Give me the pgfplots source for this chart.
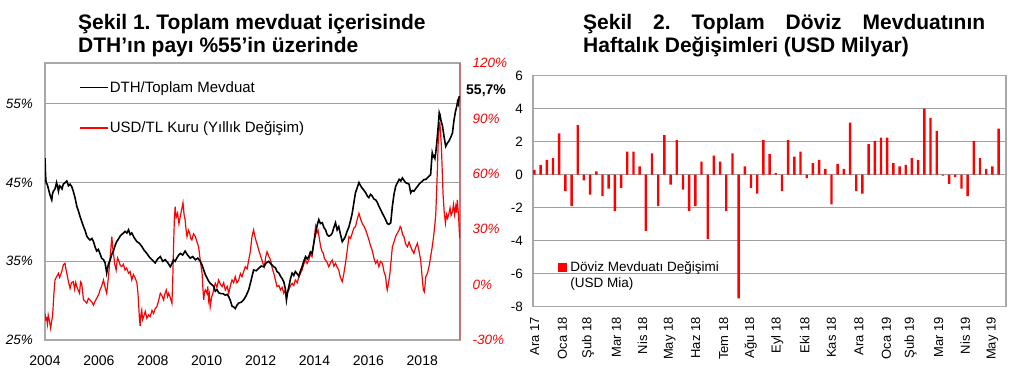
\documentclass[border=0pt]{standalone}
\usepackage{fontspec}
\setmainfont{Liberation Sans}
\usepackage{pgfplots}
\pgfplotsset{compat=1.18}
\definecolor{gridgray}{RGB}{160,160,160}
\definecolor{framegray}{RGB}{168,168,168}
\definecolor{axred}{RGB}{212,110,110}
\newcommand{\fs}[1]{\fontsize{#1}{#1}\selectfont}
\frenchspacing
\begin{document}
\begin{tikzpicture}[x=1pt,y=1pt]
\path[use as bounding box] (0,0) rectangle (1027,375);
% titles
\node[anchor=base west, inner sep=0pt, font=\fs{21}\bfseries] at (78,345) {Şekil 1. Toplam mevduat içerisinde};
\node[anchor=base west, inner sep=0pt, font=\fs{21}\bfseries] at (78,322) {DTH’ın payı \%55’in üzerinde};
\node[anchor=base west, inner sep=0pt, font=\fs{21}\bfseries] at (583,345) {\makebox[402pt][s]{Şekil 2. Toplam Döviz Mevduatının}};
\node[anchor=base west, inner sep=0pt, font=\fs{21}\bfseries] at (583,322) {Haftalık Değişimleri (USD Milyar)};

% ---------- left chart: frame, grid, left ticks, legend
\begin{axis}[
  at={(45pt,35pt)}, anchor=south west, scale only axis,
  width=415pt, height=277pt,
  xmin=2004, xmax=2019.4, ymin=25, ymax=60.2,
  xtick={2004,2006,2008,2010,2012,2014,2016,2018},
  xticklabels={2004,2006,2008,2010,2012,2014,2016,2018},
  ytick={25,35,45,55}, yticklabels={25\%,35\%,45\%,55\%},
  major tick length=0pt,
  ymajorgrids, grid style={gridgray, line width=0.9pt},
  axis line style={framegray, line width=1.3pt},
  xticklabel style={font=\fs{14}},
  xticklabel shift=12pt,
  yticklabel style={font=\fs{13.5}\itshape},
  yticklabel shift=8.5pt,
  legend style={at={(0.082,0.938)}, anchor=north west, draw=none, fill=none,
    font=\fs{15}, inner sep=0pt, row sep=26pt, nodes={inner sep=1pt}},
  legend cell align=left,
  legend image code/.code={\draw[#1] (0pt,0pt) -- (28pt,0pt);},
]
\addlegendimage{black, line width=1.6pt}
\addlegendentry{DTH/Toplam Mevduat}
\addlegendimage{red, line width=1.6pt}
\addlegendentry{USD/TL Kuru (Yıllık Değişim)}
\end{axis}

% ---------- left chart: right axis, red series
\begin{axis}[
  at={(45pt,35pt)}, anchor=south west, scale only axis,
  width=415pt, height=277pt,
  xmin=2004, xmax=2019.4, ymin=-30, ymax=120,
  axis y line*=right, axis x line=none,
  y axis line style={axred, line width=1.3pt, -},
  ytick={-30,0,30,60,90,120}, yticklabels={-30\%,0\%,30\%,60\%,90\%,120\%},
  major tick length=0pt,
  yticklabel style={font=\fs{13.5}\itshape, red},
  yticklabel shift=9pt,
]
\addplot[red, line width=1.2pt] coordinates {
(2004.00,-15.6)(2004.03,-19.0)(2004.06,-18.3)(2004.09,-21.5)(2004.12,-16.5)(2004.17,-20.0)(2004.21,-23.7)(2004.25,-19.5)(2004.28,-17.4)(2004.33,-5.0)(2004.37,2.5)(2004.43,4.3)(2004.50,6.1)(2004.54,3.9)(2004.58,5.2)(2004.63,7.5)(2004.68,10.6)(2004.74,11.5)(2004.78,8.2)(2004.81,6.1)(2004.87,1.6)(2004.93,-2.0)(2004.98,1.0)(2005.05,1.6)(2005.10,-2.5)(2005.14,1.2)(2005.18,-1.1)(2005.23,-3.0)(2005.28,-4.7)(2005.32,1.5)(2005.36,0.7)(2005.43,-8.3)(2005.49,-9.0)(2005.55,-10.1)(2005.61,-7.5)(2005.67,-8.3)(2005.74,-9.5)(2005.80,-11.1)(2005.86,-9.0)(2005.92,-7.4)(2006.00,-5.0)(2006.04,-2.9)(2006.10,-1.0)(2006.17,2.5)(2006.23,-1.5)(2006.29,-4.7)(2006.36,5.0)(2006.42,15.1)(2006.48,26.0)(2006.51,20.5)(2006.54,16.9)(2006.59,11.0)(2006.64,7.9)(2006.69,14.5)(2006.73,13.3)(2006.79,10.5)(2006.85,9.7)(2006.91,11.0)(2006.97,7.9)(2007.03,9.0)(2007.10,6.1)(2007.16,7.0)(2007.22,2.5)(2007.28,5.5)(2007.35,3.4)(2007.41,1.0)(2007.45,-4.7)(2007.48,-12.0)(2007.50,-17.4)(2007.53,-22.5)(2007.56,-16.0)(2007.59,-13.8)(2007.62,-19.0)(2007.66,-17.4)(2007.72,-14.5)(2007.78,-18.3)(2007.84,-16.5)(2007.90,-17.4)(2007.97,-14.0)(2008.03,-15.6)(2008.09,-13.0)(2008.15,-12.0)(2008.21,-9.0)(2008.28,-4.7)(2008.34,-6.0)(2008.40,-8.3)(2008.45,-5.0)(2008.50,-2.9)(2008.55,-6.5)(2008.59,-4.7)(2008.65,-7.0)(2008.71,-10.1)(2008.74,2.0)(2008.77,20.5)(2008.80,35.0)(2008.83,42.2)(2008.87,36.5)(2008.92,38.6)(2008.97,33.0)(2009.02,36.8)(2009.07,40.5)(2009.12,44.3)(2009.16,38.0)(2009.20,35.0)(2009.24,29.0)(2009.27,26.0)(2009.32,29.5)(2009.37,27.8)(2009.41,25.0)(2009.45,24.2)(2009.51,27.5)(2009.58,26.0)(2009.64,23.0)(2009.70,20.5)(2009.76,13.3)(2009.80,9.0)(2009.83,6.1)(2009.86,-2.0)(2009.89,-8.3)(2009.92,-4.0)(2009.95,-2.9)(2010.01,-4.7)(2010.04,-1.0)(2010.07,-8.3)(2010.10,-5.5)(2010.13,-12.0)(2010.18,-7.0)(2010.23,-4.7)(2010.27,-1.5)(2010.32,0.7)(2010.38,-1.5)(2010.44,2.5)(2010.50,0.5)(2010.57,-1.1)(2010.63,1.0)(2010.69,-2.9)(2010.76,-1.0)(2010.82,-4.7)(2010.88,-0.5)(2010.94,2.5)(2011.00,1.0)(2011.06,4.3)(2011.12,1.0)(2011.19,2.5)(2011.25,6.0)(2011.31,4.3)(2011.37,7.0)(2011.43,9.7)(2011.50,8.5)(2011.56,13.3)(2011.62,18.0)(2011.68,26.0)(2011.74,29.6)(2011.79,26.0)(2011.84,23.3)(2011.89,21.0)(2011.93,18.7)(2011.99,16.0)(2012.05,13.3)(2012.10,11.0)(2012.14,9.7)(2012.19,15.0)(2012.24,17.8)(2012.30,15.5)(2012.37,13.3)(2012.43,9.0)(2012.49,6.1)(2012.55,2.5)(2012.61,-1.1)(2012.68,-0.5)(2012.74,-2.9)(2012.80,-1.5)(2012.86,-4.7)(2012.91,-3.0)(2012.95,-6.5)(2013.00,-4.0)(2013.05,-2.9)(2013.11,-0.5)(2013.17,0.7)(2013.23,-0.5)(2013.29,2.5)(2013.36,1.0)(2013.42,4.3)(2013.48,6.0)(2013.54,7.9)(2013.60,11.0)(2013.67,13.3)(2013.73,11.5)(2013.79,13.3)(2013.85,16.5)(2013.91,15.1)(2013.97,22.0)(2014.04,31.4)(2014.09,28.0)(2014.13,29.6)(2014.18,25.0)(2014.23,20.5)(2014.28,18.0)(2014.33,16.9)(2014.37,14.0)(2014.41,13.3)(2014.47,12.0)(2014.53,9.7)(2014.60,12.0)(2014.66,13.3)(2014.72,10.0)(2014.78,11.5)(2014.84,9.5)(2014.90,7.9)(2014.96,4.0)(2015.03,1.6)(2015.09,6.0)(2015.15,11.5)(2015.21,18.0)(2015.28,26.0)(2015.34,25.0)(2015.40,27.8)(2015.46,30.5)(2015.52,31.4)(2015.58,35.0)(2015.65,38.6)(2015.71,35.5)(2015.77,33.2)(2015.84,31.5)(2015.90,29.6)(2015.96,27.0)(2016.02,24.2)(2016.08,21.0)(2016.14,18.7)(2016.21,14.0)(2016.27,11.5)(2016.33,13.0)(2016.39,9.7)(2016.45,12.5)(2016.52,11.5)(2016.58,7.0)(2016.64,4.3)(2016.67,0.0)(2016.70,-2.9)(2016.75,1.0)(2016.80,6.1)(2016.85,14.0)(2016.89,20.5)(2016.95,23.0)(2017.01,26.0)(2017.08,28.0)(2017.14,29.6)(2017.18,31.4)(2017.22,30.5)(2017.27,27.0)(2017.32,26.0)(2017.38,22.0)(2017.45,20.5)(2017.51,23.0)(2017.57,20.5)(2017.63,18.5)(2017.69,16.9)(2017.75,20.0)(2017.82,22.4)(2017.88,18.0)(2017.94,13.3)(2017.99,5.0)(2018.04,-2.9)(2018.08,-4.0)(2018.13,4.3)(2018.19,6.0)(2018.25,9.7)(2018.31,15.0)(2018.37,20.5)(2018.42,26.0)(2018.46,31.4)(2018.50,38.0)(2018.53,49.4)(2018.56,62.0)(2018.59,76.5)(2018.62,84.0)(2018.65,88.0)(2018.68,82.0)(2018.71,74.7)(2018.74,62.0)(2018.77,49.4)(2018.81,40.0)(2018.86,33.2)(2018.90,38.0)(2018.94,36.0)(2018.99,38.6)(2019.03,41.5)(2019.07,37.5)(2019.12,39.5)(2019.16,43.5)(2019.20,38.0)(2019.24,42.2)(2019.27,39.0)(2019.30,45.8)(2019.33,40.0)(2019.35,36.8)(2019.37,30.0)(2019.39,25.0)
};
\end{axis}

% ---------- left chart: black series on top
\begin{axis}[
  at={(45pt,35pt)}, anchor=south west, scale only axis,
  width=415pt, height=277pt,
  xmin=2004, xmax=2019.4, ymin=25, ymax=60.2,
  hide axis,
]
\addplot[black, line width=1.6pt] coordinates {
(2004.00,48.1)(2004.02,46.0)(2004.04,45.0)(2004.08,44.8)(2004.12,44.3)(2004.18,43.5)(2004.25,42.8)(2004.28,43.6)(2004.31,43.9)(2004.37,44.2)(2004.43,45.0)(2004.47,44.4)(2004.50,43.9)(2004.54,44.6)(2004.58,44.5)(2004.63,44.2)(2004.68,44.8)(2004.75,45.0)(2004.81,45.2)(2004.87,44.6)(2004.93,44.8)(2004.99,44.5)(2005.05,43.9)(2005.12,43.0)(2005.18,42.0)(2005.24,41.4)(2005.30,40.7)(2005.36,40.1)(2005.43,39.4)(2005.49,38.9)(2005.55,38.2)(2005.61,37.9)(2005.67,37.7)(2005.74,37.9)(2005.80,37.5)(2005.86,36.8)(2005.92,36.3)(2005.98,36.5)(2006.04,36.0)(2006.10,35.4)(2006.17,35.2)(2006.23,34.8)(2006.29,33.5)(2006.35,34.6)(2006.42,35.2)(2006.48,35.9)(2006.54,36.3)(2006.60,37.0)(2006.66,37.5)(2006.72,37.8)(2006.79,38.2)(2006.88,38.5)(2006.97,38.8)(2007.04,38.6)(2007.10,39.0)(2007.16,38.4)(2007.22,38.6)(2007.31,38.0)(2007.41,37.5)(2007.50,37.3)(2007.59,36.9)(2007.68,36.4)(2007.78,36.0)(2007.88,35.5)(2007.97,35.2)(2008.03,35.0)(2008.09,34.8)(2008.18,35.3)(2008.28,35.6)(2008.37,35.0)(2008.46,35.2)(2008.56,34.8)(2008.65,34.3)(2008.71,34.7)(2008.77,35.2)(2008.83,35.0)(2008.89,35.4)(2008.96,35.8)(2009.02,36.0)(2009.11,35.8)(2009.20,36.3)(2009.29,35.8)(2009.39,35.4)(2009.48,35.6)(2009.58,35.2)(2009.67,35.4)(2009.76,35.0)(2009.83,34.5)(2009.89,33.9)(2009.95,33.3)(2010.01,32.9)(2010.07,32.5)(2010.13,32.2)(2010.20,32.0)(2010.26,31.8)(2010.32,31.2)(2010.38,31.4)(2010.45,31.0)(2010.51,30.9)(2010.60,30.9)(2010.69,30.7)(2010.76,30.8)(2010.82,30.5)(2010.88,30.0)(2010.94,29.3)(2011.00,29.2)(2011.06,29.0)(2011.12,29.4)(2011.19,29.7)(2011.28,29.8)(2011.37,30.1)(2011.46,30.6)(2011.56,31.4)(2011.65,32.6)(2011.74,33.9)(2011.84,33.8)(2011.93,34.1)(2012.02,34.4)(2012.12,34.3)(2012.21,34.8)(2012.30,35.0)(2012.40,34.6)(2012.49,34.3)(2012.55,34.2)(2012.61,33.7)(2012.68,33.5)(2012.74,33.1)(2012.80,32.8)(2012.86,32.4)(2012.92,31.5)(2012.96,30.1)(2013.00,31.0)(2013.05,31.8)(2013.11,32.8)(2013.17,33.5)(2013.23,33.2)(2013.29,33.7)(2013.36,33.4)(2013.42,33.1)(2013.48,33.8)(2013.54,34.3)(2013.60,35.0)(2013.67,35.6)(2013.73,35.3)(2013.79,35.6)(2013.85,36.2)(2013.91,36.0)(2013.97,37.2)(2014.04,38.6)(2014.10,39.6)(2014.16,40.3)(2014.22,39.8)(2014.29,39.9)(2014.35,39.3)(2014.41,39.0)(2014.47,38.4)(2014.53,38.2)(2014.60,38.3)(2014.66,38.6)(2014.72,39.3)(2014.78,39.9)(2014.84,39.0)(2014.90,39.4)(2014.96,38.5)(2015.03,37.5)(2015.09,37.8)(2015.15,38.2)(2015.21,38.8)(2015.28,39.4)(2015.34,40.2)(2015.40,41.1)(2015.46,42.4)(2015.52,43.7)(2015.58,44.3)(2015.65,45.0)(2015.71,44.6)(2015.77,44.3)(2015.84,44.0)(2015.90,43.7)(2015.96,43.3)(2016.02,43.1)(2016.08,43.5)(2016.14,43.3)(2016.21,42.9)(2016.27,42.8)(2016.33,42.5)(2016.39,42.0)(2016.45,41.6)(2016.52,41.1)(2016.58,40.7)(2016.64,40.3)(2016.70,39.8)(2016.76,39.7)(2016.83,39.9)(2016.89,42.0)(2016.95,43.5)(2017.01,44.5)(2017.08,45.0)(2017.14,45.4)(2017.20,45.2)(2017.26,45.6)(2017.32,45.3)(2017.38,45.0)(2017.45,44.9)(2017.51,44.8)(2017.57,43.7)(2017.63,44.0)(2017.69,43.9)(2017.75,44.2)(2017.82,44.5)(2017.88,44.8)(2017.94,45.0)(2018.01,45.2)(2018.07,45.4)(2018.13,45.4)(2018.19,45.6)(2018.25,45.8)(2018.31,46.0)(2018.34,47.5)(2018.37,48.8)(2018.41,48.3)(2018.44,48.4)(2018.47,48.1)(2018.50,48.8)(2018.53,49.8)(2018.56,50.9)(2018.60,52.5)(2018.63,53.9)(2018.66,53.6)(2018.70,52.8)(2018.75,52.2)(2018.81,50.8)(2018.87,49.6)(2018.93,50.0)(2018.99,50.3)(2019.05,50.7)(2019.12,51.3)(2019.15,52.2)(2019.18,53.0)(2019.23,54.0)(2019.28,54.7)(2019.31,55.3)(2019.34,55.0)(2019.37,56.0)
};
\end{axis}
\node[anchor=west, inner sep=0pt, font=\fs{14}\bfseries] at (466,284) {55,7\%};

% ---------- right chart
\begin{axis}[
  at={(533pt,68.3pt)}, anchor=south west, scale only axis,
  width=473pt, height=231pt,
  xmin=-0.23, xmax=76.2, ymin=-8, ymax=6,
  ytick={-8,-6,-4,-2,0,2,4,6}, yticklabels={-8,-6,-4,-2,0,2,4,6},
  xtick={0.05,4.52,8.66,13.24,17.44,21.86,26.06,30.58,34.94,39.25,43.67,47.98,52.44,56.86,60.79,65.31,69.62,73.99},
  xticklabels={Ara 17,Oca 18,Şub 18,Mar 18,Nis 18,May 18,Haz 18,Tem 18,Ağu 18,Eyl 18,Eki 18,Kas 18,Ara 18,Oca 19,Şub 19,Mar 19,Nis 19,May 19},
  xticklabel style={rotate=90, anchor=east, font=\fs{13}},
  xticklabel shift=7pt,
  yticklabel style={font=\fs{13.5}},
  yticklabel shift=6.5pt,
  major tick length=0pt,
  ymajorgrids, grid style={gridgray, line width=0.9pt},
  axis line style={framegray, line width=1.3pt},
  legend style={at={(0.053,0.198)}, anchor=north west, draw=none, fill=none,
    font=\fs{13.5}, inner sep=0pt, row sep=3pt, nodes={inner sep=0.6pt}},
  legend cell align=left,
  legend image code/.code={\fill[red] (0pt,-4.5pt) rectangle (9pt,4.5pt); \path (11.5pt,0pt);},
]
\addplot[ybar, bar width=2.4pt, fill=red, draw=none] coordinates {
(0,0.3)(1,0.6)(2,0.9)(3,1.0)(4,2.5)(5,-1.0)(6,-1.9)(7,3.0)(8,-0.35)(9,-1.2)
(10,0.2)(11,-1.3)(12,-0.85)(13,-2.2)(14,-0.8)(15,1.4)(16,1.4)(17,0.5)(18,-3.4)(19,1.3)
(20,-1.9)(21,2.4)(22,-0.6)(23,2.1)(24,-0.9)(25,-2.2)(26,-1.9)(27,0.8)(28,-3.9)(29,1.15)
(30,0.8)(31,-2.2)(32,1.3)(33,-7.5)(34,0.5)(35,-0.8)(36,-1.15)(37,2.1)(38,1.25)(39,0.1)
(40,-1.0)(41,2.1)(42,1.1)(43,1.4)(44,-0.2)(45,0.7)(46,0.9)(47,0.35)(48,-1.8)(49,0.65)
(50,0.35)(51,3.15)(52,-1.0)(53,-1.15)(54,1.85)(55,2.05)(56,2.25)(57,2.25)(58,0.7)(59,0.5)
(60,0.6)(61,1.0)(62,0.9)(63,4.0)(64,3.45)(65,2.65)(66,-0.05)(67,-0.55)(68,-0.15)(69,-0.85)
(70,-1.3)(71,2.05)(72,1.0)(73,0.35)(74,0.5)(75,2.8)
};
\addlegendentry{Döviz Mevduatı Değişimi}
\addlegendimage{empty legend}
\addlegendentry{(USD Mia)}
\end{axis}
\end{tikzpicture}
\end{document}
